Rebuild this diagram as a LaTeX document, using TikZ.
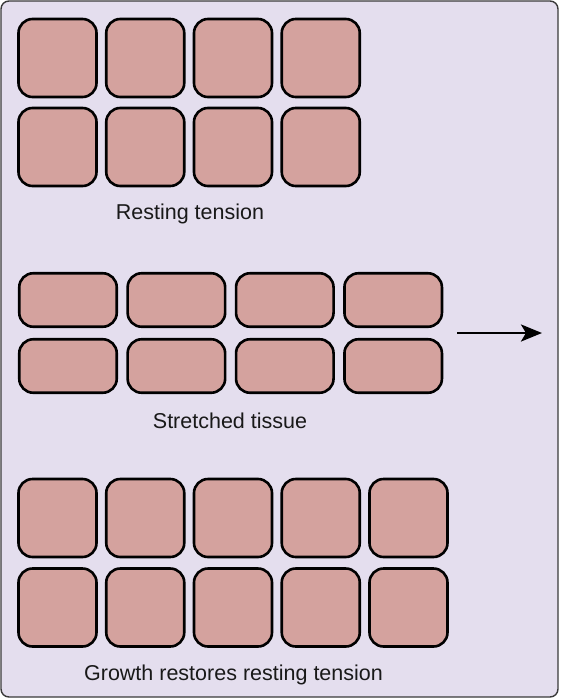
\documentclass[tikz,border=0pt]{standalone}
\usepackage{fontspec}
\setmainfont{Liberation Sans}
\usetikzlibrary{arrows.meta}
\definecolor{bgc}{HTML}{E4DEEE}
\definecolor{cellc}{HTML}{D4A29E}
\definecolor{framec}{HTML}{3A3A3A}
\tikzset{
  cell/.style={draw=black, fill=cellc, line width=2.6pt, rounded corners=14pt, inner sep=0pt},
  sq/.style={cell, minimum width=78pt, minimum height=78pt},
  wide/.style={cell, minimum width=97.5pt, minimum height=53.5pt},
  lbl/.style={font=\fontsize{21.5pt}{24pt}\selectfont, text=black!90, inner sep=0pt}
}
\begin{document}
\begin{tikzpicture}[x=1pt,y=-1pt]
\useasboundingbox (0,0) rectangle (560,699);
\draw[fill=bgc, draw=framec, line width=1.4pt, rounded corners=8pt] (1,1) rectangle (558,697);
% resting tension
\foreach \i in {0,...,3} {
  \node[sq] (a\i) at (57.5+87.75*\i, 58) {};
  \node[sq] (b\i) at (57.5+87.75*\i, 147) {};
}
\node[lbl] (t1) at (190, 214) {Resting tension};
% stretched
\foreach \i in {0,...,3} {
  \node[wide] (c\i) at (68+108.4*\i, 300) {};
  \node[wide] (d\i) at (68+108.4*\i, 366) {};
}
\coordinate (as) at (457,333);
\coordinate (ae) at (542,333);
\draw[line width=2.8pt, -{Stealth[length=21pt,width=17pt,inset=5pt]}] (as) -- (ae);
\node[lbl] (t2) at (230, 421) {Stretched tissue};
% growth
\foreach \i in {0,...,4} {
  \node[sq] (e\i) at (57.5+87.75*\i, 518) {};
  \node[sq] (f\i) at (57.5+87.75*\i, 607.5) {};
}
\node[lbl] (t3) at (233.5, 675) {Growth restores resting tension};
\end{tikzpicture}
\end{document}
